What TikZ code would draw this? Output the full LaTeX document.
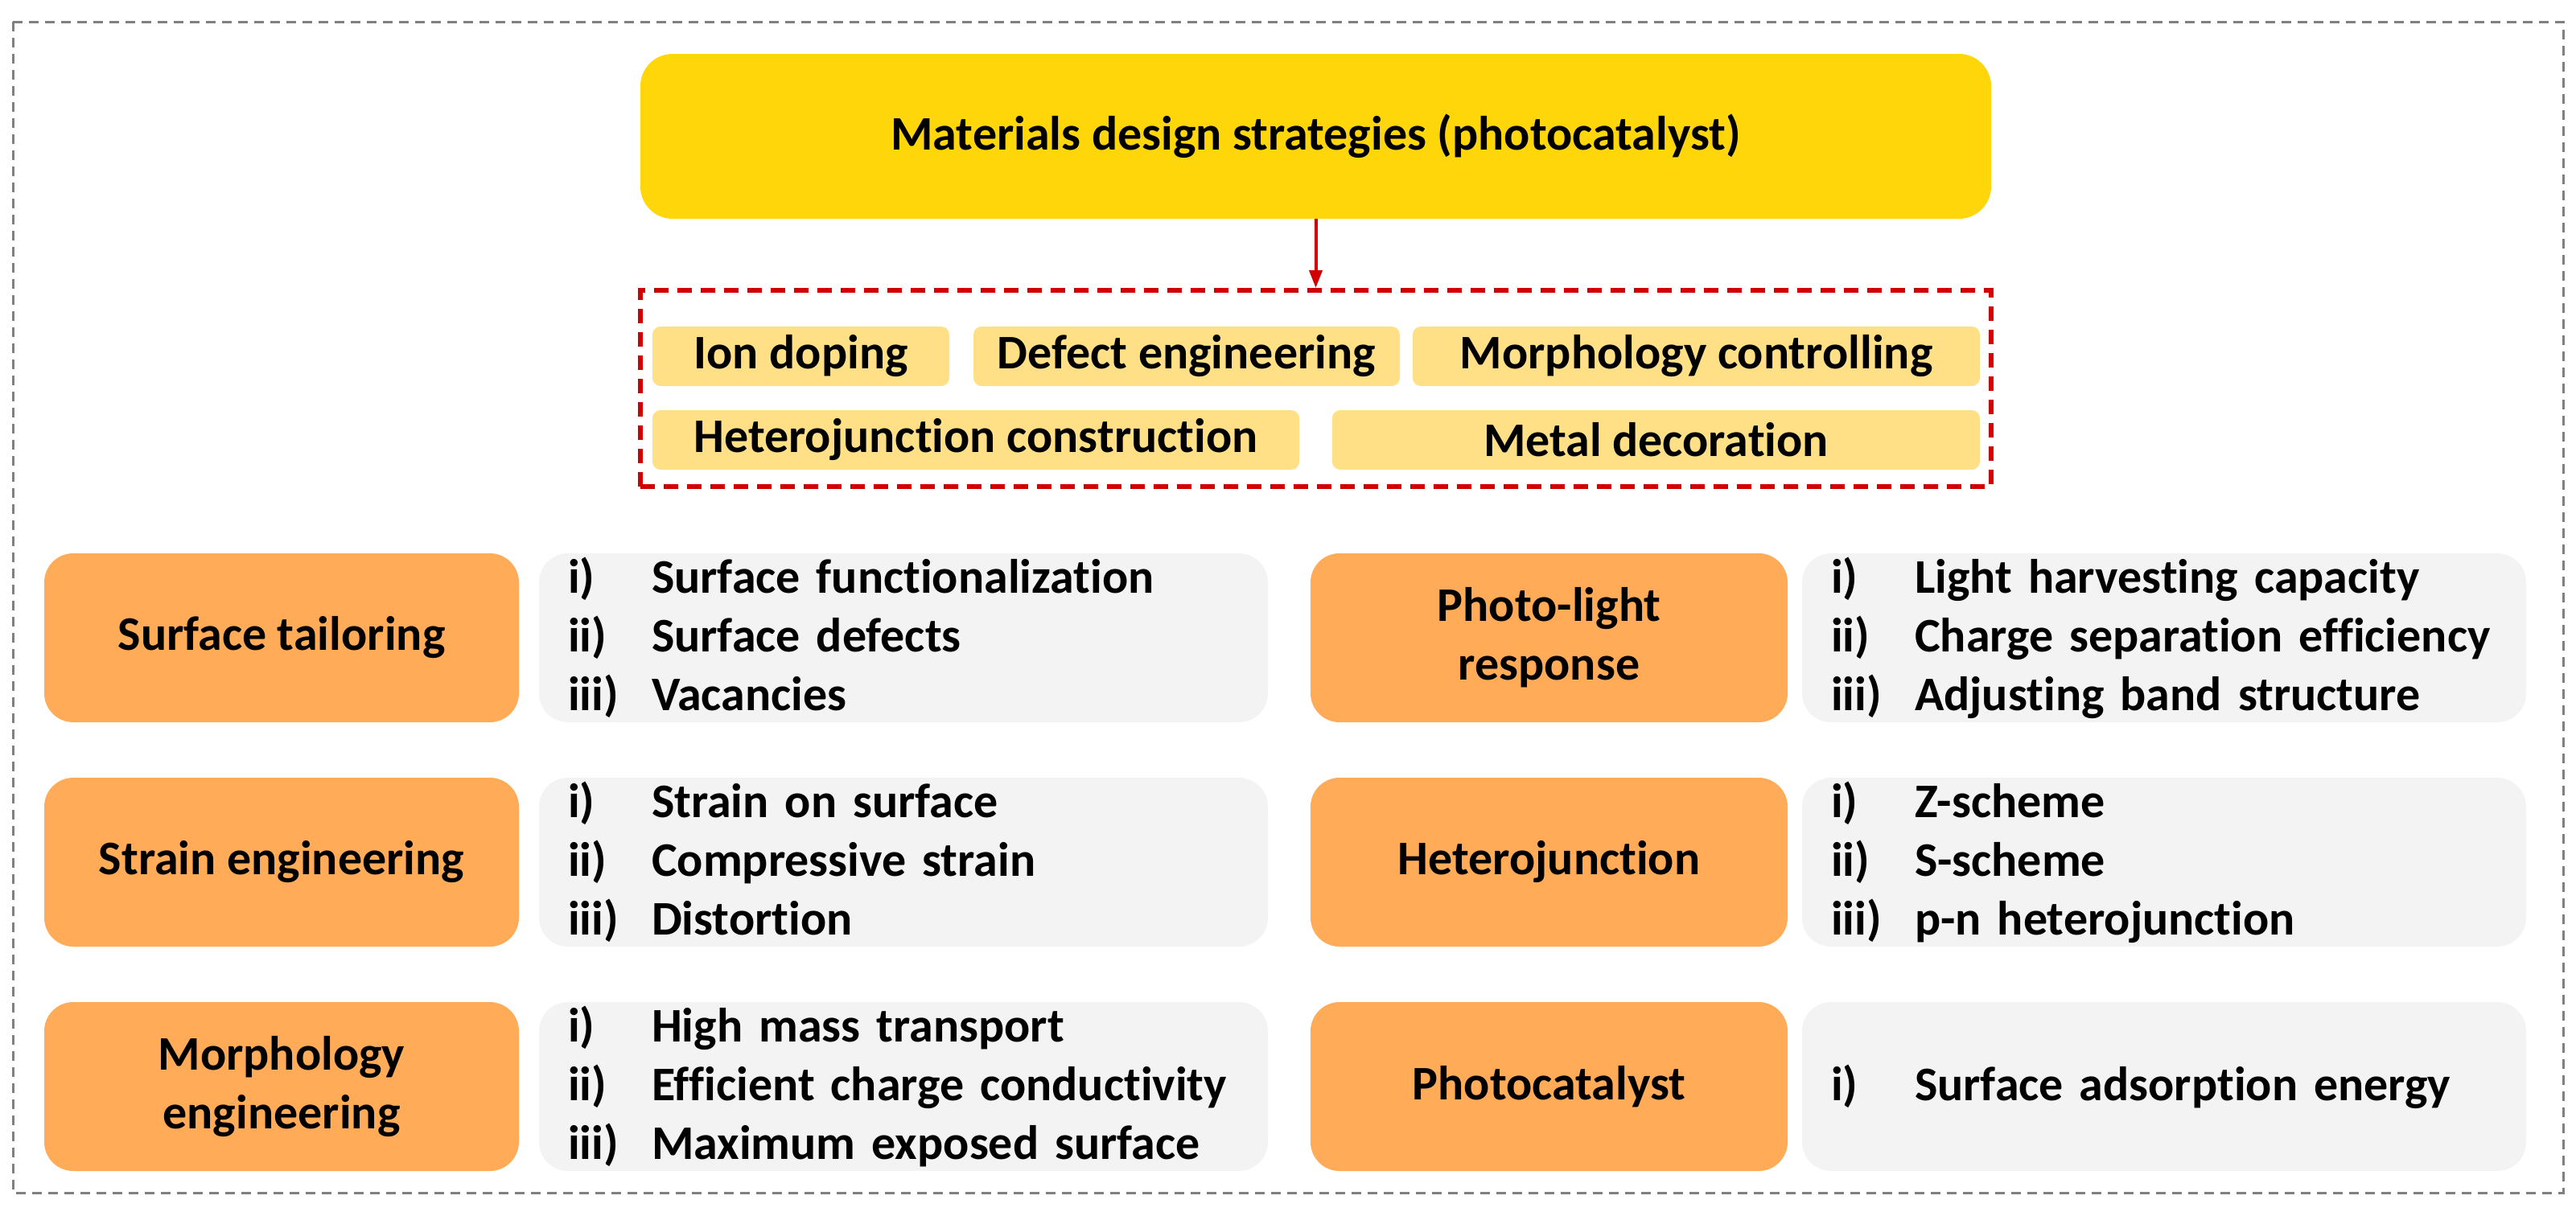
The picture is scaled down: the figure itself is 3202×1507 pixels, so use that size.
\documentclass[tikz,border=0pt]{standalone}
\usepackage{fontspec}
\setmainfont[Ligatures=NoCommon]{Carlito}
\usetikzlibrary{arrows.meta}
\definecolor{titleyellow}{RGB}{255,214,10}
\definecolor{chipyellow}{RGB}{255,224,135}
\definecolor{boxorange}{RGB}{255,171,87}
\definecolor{boxgray}{RGB}{243,243,243}
\definecolor{linered}{RGB}{208,0,0}
\definecolor{framegray}{RGB}{128,128,128}
\tikzset{
  txt/.style={font=\bfseries\fontsize{60}{73}\selectfont, text=black},
  titlebox/.style={txt, fill=titleyellow, rounded corners=40pt, minimum width=1679pt, minimum height=205pt, inner sep=0pt},
  chip/.style={txt, fill=chipyellow, rounded corners=10pt, minimum height=74pt, inner sep=0pt},
  headbox/.style={txt, fill=boxorange, rounded corners=36pt, minimum height=210pt, inner sep=0pt, align=center},
  listbox/.style={txt, fill=boxgray, rounded corners=36pt, minimum height=210pt, inner xsep=36pt, inner ysep=0pt, align=left},
}
\newcommand{\itm}[2]{\makebox[104pt][l]{#1}#2}
\begin{document}
\begin{tikzpicture}[x=1pt,y=-1pt]
\useasboundingbox (0,0) rectangle (3202,1507);
\draw[framegray, line width=3pt, dash pattern=on 12pt off 8pt] (16,27) rectangle (3186,1483);

\node[titlebox] (title) at (1635.5,169.5) {Materials design strategies (photocatalyst)};
\node[draw=linered, line width=6pt, dash pattern=on 18pt off 11pt, minimum width=1679pt, minimum height=244pt, inner sep=0pt] (strat) at (1635.5,483) {};
\draw[linered, line width=4pt, -{Triangle[length=22pt,width=16pt]}] (title.south) -- (strat.north);

\node[chip, minimum width=369pt] (ion) at (995.5,443) {Ion doping};
\node[chip, minimum width=530pt] (defect) at (1475,443) {Defect engineering};
\node[chip, minimum width=705pt] (morph) at (2108.5,443) {Morphology controlling};
\node[chip, minimum width=804pt] (hetc) at (1213,547) {Heterojunction construction};
\node[chip, minimum width=805pt] (metal) at (2058.5,547) {Metal decoration};

% row 1
\node[headbox, minimum width=590pt] (st) at (350,793) {Surface tailoring};
\node[listbox, text width=834pt, minimum width=906pt] (stl) at (1123,793) {\itm{i)}{Surface functionalization}\\\itm{ii)}{Surface defects}\\\itm{iii)}{Vacancies}};
\node[headbox, minimum width=593pt] (pl) at (1925.5,793) {Photo-light\\response};
\node[listbox, text width=828pt, minimum width=900pt] (pll) at (2690,793) {\itm{i)}{Light harvesting capacity}\\\itm{ii)}{Charge separation efficiency}\\\itm{iii)}{Adjusting band structure}};
% row 2
\node[headbox, minimum width=590pt] (se) at (350,1072) {Strain engineering};
\node[listbox, text width=834pt, minimum width=906pt] (sel) at (1123,1072) {\itm{i)}{Strain on surface}\\\itm{ii)}{Compressive strain}\\\itm{iii)}{Distortion}};
\node[headbox, minimum width=593pt] (hj) at (1925.5,1072) {Heterojunction};
\node[listbox, text width=828pt, minimum width=900pt] (hjl) at (2690,1072) {\itm{i)}{Z-scheme}\\\itm{ii)}{S-scheme}\\\itm{iii)}{p-n heterojunction}};
% row 3
\node[headbox, minimum width=590pt] (me) at (350,1351) {Morphology\\engineering};
\node[listbox, text width=834pt, minimum width=906pt] (mel) at (1123,1351) {\itm{i)}{High mass transport}\\\itm{ii)}{Efficient charge conductivity}\\\itm{iii)}{Maximum exposed surface}};
\node[headbox, minimum width=593pt] (pc) at (1925.5,1351) {Photocatalyst};
\node[listbox, text width=828pt, minimum width=900pt] (pcl) at (2690,1351) {\itm{i)}{Surface adsorption energy}};
\end{tikzpicture}
\end{document}
